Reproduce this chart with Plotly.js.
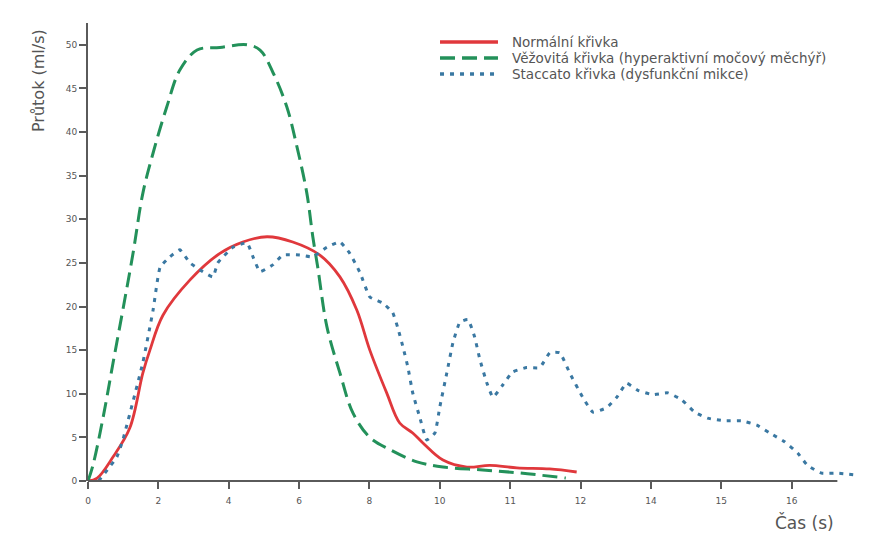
<!DOCTYPE html>
<html>
<head>
<meta charset="utf-8">
<script src="https://cdn.plot.ly/plotly-3.0.1.min.js"></script>
<style>html,body{margin:0;padding:0;background:#fff;}#chart{width:874px;height:536px;}</style>
</head>
<body>
<div id="chart"></div>
<script>
// Tick positions and the labels printed under them
const xTickVals = [0, 2, 4, 6, 8, 10, 12, 14, 16, 18, 20];
const xTickText = ["0", "2", "4", "6", "8", "10", "11", "12", "14", "15", "16"];
const yTickVals = [0, 5, 10, 15, 20, 25, 30, 35, 40, 45, 50];

// Normální křivka
const normalX = [0, 0.26, 0.71, 1.19, 1.56, 1.76, 2.13, 2.9, 3.75, 4.4, 5.09, 5.82, 6.59, 7.16, 7.64, 8.01, 8.49, 8.86, 9.23, 9.52, 10.09, 10.77, 11.42, 12.19, 13.12, 13.89];
const normalY = [0, 0.34, 2.75, 6.1, 12.4, 15.0, 19.0, 23.05, 26.1, 27.4, 28.0, 27.4, 25.9, 23.4, 19.6, 15.0, 10.1, 6.65, 5.5, 4.36, 2.4, 1.6, 1.8, 1.5, 1.38, 1.03];

// Věžovitá křivka
const towerX = [0, 0.14, 0.43, 0.71, 0.99, 1.28, 1.56, 1.85, 2.24, 2.61, 3.1, 3.75, 4.52, 4.89, 5.26, 5.65, 5.94, 6.22, 6.39, 6.53, 6.79, 7.16, 7.53, 8.01, 8.58, 9.35, 10.09, 11.22, 12.27, 13.58];
const towerY = [0, 1.8, 7.3, 13.5, 19.6, 26.1, 33.0, 37.6, 42.9, 47.1, 49.4, 49.7, 50.0, 49.4, 46.8, 42.9, 38.3, 33.0, 28.0, 24.5, 17.7, 12.4, 7.8, 5.0, 3.6, 2.2, 1.6, 1.26, 0.92, 0.34];

// Staccato křivka
const staccatoX = [0.3, 0.82, 0.99, 1.56, 1.85, 2.05, 2.33, 2.61, 2.9, 3.18, 3.55, 3.69, 4.12, 4.52, 4.69, 4.89, 5.26, 5.54, 6.02, 6.39, 6.79, 7.16, 7.44, 7.73, 8.01, 8.38, 8.66, 8.81, 8.95, 9.09, 9.23, 9.43, 9.63, 9.86, 10.0, 10.2, 10.37, 10.57, 10.8, 10.99, 11.14, 11.34, 11.51, 11.79, 12.07, 12.47, 12.84, 13.13, 13.41, 13.69, 14.06, 14.35, 14.74, 15.03, 15.31, 15.63, 16.05, 16.48, 16.88, 17.24, 17.61, 18.1, 18.58, 19.01, 19.38, 19.8, 20.17, 20.45, 20.85, 21.31, 21.79];
const staccatoY = [0, 2.75, 4.7, 13.6, 19.6, 24.5, 25.7, 26.5, 25.0, 24.2, 23.4, 25.0, 26.8, 27.3, 25.7, 24.0, 24.8, 25.9, 25.9, 25.7, 26.8, 27.4, 26.1, 23.9, 21.1, 20.4, 19.3, 17.5, 15.4, 13.1, 10.1, 7.3, 4.7, 5.5, 8.5, 12.4, 15.8, 18.2, 18.5, 16.5, 13.9, 11.2, 9.6, 11.0, 12.5, 13.0, 13.0, 14.7, 14.7, 12.4, 9.6, 7.9, 8.4, 9.6, 11.2, 10.4, 9.9, 10.1, 9.3, 7.9, 7.2, 6.9, 6.9, 6.4, 5.5, 4.5, 3.2, 1.8, 0.9, 0.9, 0.7];

const seriesNames = ["Normální křivka", "Věžovitá křivka (hyperaktivní močový měchýř)", "Staccato křivka (dysfunkční mikce)"];

const axisGray = "#5a5a5a";
const textGray = "#555555";
const fontFam = "DejaVu Sans, Liberation Sans, Arial, sans-serif";

const seriesStyles = [
  { color: "#e0383c", width: 2.8, dash: "solid", shape: "spline", smoothing: 1 },
  { color: "#23915a", width: 3, dash: "15px,7px", shape: "spline", smoothing: 1 },
  { color: "#3a78a2", width: 3, dash: "4px,6px", shape: "spline", smoothing: 0.4 }
];
const seriesX = [normalX, towerX, staccatoX];
const seriesY = [normalY, towerY, staccatoY];

const traces = seriesNames.map((n, i) => ({
  x: seriesX[i], y: seriesY[i], name: n, mode: "lines", type: "scatter",
  line: seriesStyles[i]
}));

// Hand-placed legend (paper coordinates), built from the series names/styles
const legendRowsY = [0.9585, 0.9236, 0.8886];
const legendShapes = seriesNames.map((n, i) => ({
  type: "line", xref: "paper", yref: "paper",
  x0: 0.4548, x1: 0.5297, y0: legendRowsY[i], y1: legendRowsY[i],
  line: { color: seriesStyles[i].color, width: 3.5, dash: seriesStyles[i].dash }
}));
const legendTexts = seriesNames.map((n, i) => ({
  text: n, xref: "paper", yref: "paper", x: 0.5452, y: legendRowsY[i],
  xanchor: "left", yanchor: "middle", showarrow: false,
  font: { size: 13.5, color: textGray, family: fontFam }
}));

const layout = {
  width: 874, height: 536,
  margin: { l: 88, r: 12, t: 23, b: 55 },
  paper_bgcolor: "#ffffff", plot_bgcolor: "#ffffff",
  font: { family: fontFam, color: textGray },
  showlegend: false,
  xaxis: {
    range: [0, 22], showgrid: false, zeroline: false, showline: false,
    tickmode: "array", tickvals: xTickVals, ticktext: xTickText,
    ticks: "outside", ticklen: 7, tickwidth: 2, tickcolor: axisGray,
    ticklabelstandoff: 4,
    tickfont: { size: 9, color: textGray }, fixedrange: true
  },
  yaxis: {
    range: [0, 52.5], showgrid: false, zeroline: false,
    showline: true, linecolor: axisGray, linewidth: 2,
    tickmode: "array", tickvals: yTickVals,
    ticks: "outside", ticklen: 7, tickwidth: 2, tickcolor: axisGray,
    tickfont: { size: 9, color: textGray }, fixedrange: true
  },
  shapes: [
    { type: "line", xref: "x", yref: "paper", x0: 0, x1: 21.3, y0: 0, y1: 0,
      line: { color: axisGray, width: 2 } }
  ].concat(legendShapes),
  annotations: [
    { text: "Čas (s)", xref: "paper", yref: "paper", x: 0.926, y: -0.0917,
      xanchor: "center", yanchor: "middle", showarrow: false,
      font: { size: 17, color: textGray, family: fontFam } },
    { text: "Průtok (ml/s)", xref: "paper", yref: "paper", x: -0.0646, y: 0.8755,
      xanchor: "center", yanchor: "middle", showarrow: false, textangle: -90,
      font: { size: 16, color: textGray, family: fontFam } }
  ].concat(legendTexts)
};

Plotly.newPlot("chart", traces, layout, { displayModeBar: false, staticPlot: true });
</script>
</body>
</html>
